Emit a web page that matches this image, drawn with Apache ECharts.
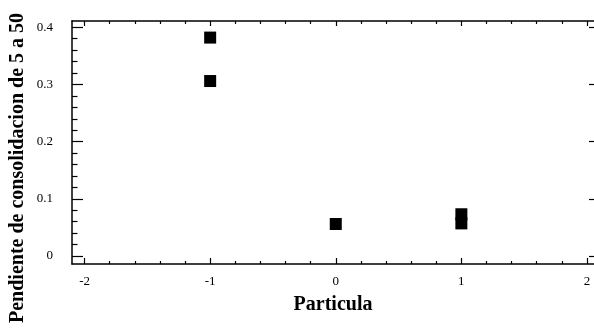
<!DOCTYPE html>
<html>
<head>
<meta charset="utf-8">
<script src="https://cdn.jsdelivr.net/npm/echarts@6/dist/echarts.min.js"></script>
<style>
  html, body { margin: 0; padding: 0; background: #fff; }
  #chart { width: 594px; height: 332px; }
</style>
</head>
<body>
<div id="chart"></div>
<script>
// Measured slopes per particle class
const particle = [-1, -1, 0, 1, 1];
const slope = [0.382, 0.306, 0.056, 0.073, 0.057];

// Axis ticks and labels
const xMajorTicks = [-2, -1, 0, 1, 2];
const xMinorTicks = [-1.8, -1.6, -1.4, -1.2, -0.8, -0.6, -0.4, -0.2, 0.2, 0.4, 0.6, 0.8, 1.2, 1.4, 1.6, 1.8];
const yMajorTicks = [0, 0.1, 0.2, 0.3, 0.4];
const yMinorTicks = [0.02, 0.04, 0.06, 0.08, 0.12, 0.14, 0.16, 0.18, 0.22, 0.24, 0.26, 0.28, 0.32, 0.34, 0.36, 0.38];

const xTitle = 'Particula';
const yTitle = 'Pendiente de consolidacion de 5 a 50';

const X_MIN = -2.1, X_MAX = 2.056;
const Y_MIN = -0.014, Y_MAX = 0.411;
const FONT = 'Liberation Serif';

const chart = echarts.init(document.getElementById('chart'), null, { renderer: 'canvas' });

function xAxisBase(position) {
  return {
    type: 'value', position: position, min: X_MIN, max: X_MAX,
    splitLine: { show: false },
    axisLine: { show: false, onZero: false },
    axisLabel: { show: false },
    axisTick: { show: false }
  };
}
function yAxisBase(position) {
  return {
    type: 'value', position: position, min: Y_MIN, max: Y_MAX,
    splitLine: { show: false },
    axisLine: { show: false, onZero: false },
    axisLabel: { show: false },
    axisTick: { show: false }
  };
}
const tickStyle = { color: '#000', width: 1.2 };
const frameLine = { show: true, onZero: false, lineStyle: { color: '#000', width: 1.5 } };

const xBottom = xAxisBase('bottom');
xBottom.axisLine = frameLine;
xBottom.axisTick = { show: true, inside: true, length: 6, customValues: xMajorTicks, lineStyle: tickStyle };
xBottom.axisLabel = { show: true, customValues: xMajorTicks, margin: 11, color: '#000', fontFamily: FONT, fontSize: 13 };
xBottom.name = xTitle;
xBottom.nameLocation = 'middle';
xBottom.nameGap = 31;
xBottom.nameTextStyle = { color: '#000', fontFamily: FONT, fontWeight: 'bold', fontSize: 20 };

const xBottomMinor = xAxisBase('bottom');
xBottomMinor.axisTick = { show: true, inside: true, length: 3, customValues: xMinorTicks, lineStyle: tickStyle };

const xTop = xAxisBase('top');
xTop.axisLine = frameLine;
xTop.axisTick = { show: true, inside: true, length: 5, customValues: xMajorTicks, lineStyle: tickStyle };

const xTopMinor = xAxisBase('top');
xTopMinor.axisTick = { show: true, inside: true, length: 3, customValues: xMinorTicks, lineStyle: tickStyle };

const yLeft = yAxisBase('left');
yLeft.axisLine = frameLine;
yLeft.axisTick = { show: true, inside: true, length: 11, customValues: yMajorTicks, lineStyle: tickStyle };
yLeft.axisLabel = { show: true, customValues: yMajorTicks, margin: 19, color: '#000', fontFamily: FONT, fontSize: 13 };

const yLeftMinor = yAxisBase('left');
yLeftMinor.axisTick = { show: true, inside: true, length: 5.5, customValues: yMinorTicks, lineStyle: tickStyle };

const yRight = yAxisBase('right');
yRight.axisTick = { show: true, inside: true, length: 5, customValues: yMajorTicks, lineStyle: tickStyle };

chart.setOption({
  animation: false,
  backgroundColor: '#fff',
  grid: { left: 72, right: 0, top: 21, bottom: 68, containLabel: false },
  xAxis: [xBottom, xBottomMinor, xTop, xTopMinor],
  yAxis: [yLeft, yLeftMinor, yRight],
  graphic: [{
    type: 'text',
    x: 18, y: 168,
    rotation: Math.PI / 2,
    style: {
      text: yTitle,
      fill: '#000',
      font: 'bold 20px "Liberation Serif"',
      align: 'center',
      verticalAlign: 'middle'
    }
  }],
  series: [{
    type: 'scatter',
    xAxisIndex: 0,
    yAxisIndex: 0,
    symbol: 'rect',
    symbolSize: 12,
    itemStyle: { color: '#000', opacity: 1 },
    data: particle.map((p, i) => [p, slope[i]])
  }]
});
</script>
</body>
</html>
